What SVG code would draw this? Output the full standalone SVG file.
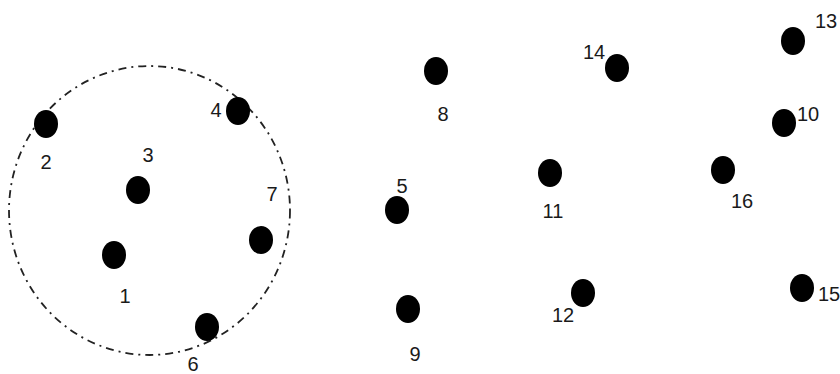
<svg xmlns="http://www.w3.org/2000/svg" width="840" height="374" viewBox="0 0 840 374">
<style>
.dot{fill:#000}
.lbl{font-family:"Liberation Sans",Arial,sans-serif;font-size:20px;fill:#1a1a1a;text-anchor:middle}
.ring{fill:none;stroke:#222;stroke-width:1.8;stroke-dasharray:8 5 2 5}
</style>
<rect width="840" height="374" fill="#fff"/>
<g id="connectors">
<ellipse class="ring" cx="149.5" cy="210.5" rx="140.5" ry="144.5"/>
</g>
<g id="n1"><ellipse class="dot" cx="114" cy="255" rx="12" ry="14"/><text class="lbl" x="125" y="303">1</text></g>
<g id="n2"><ellipse class="dot" cx="46" cy="124" rx="12" ry="14"/><text class="lbl" x="46" y="169">2</text></g>
<g id="n3"><ellipse class="dot" cx="138" cy="190" rx="12" ry="14"/><text class="lbl" x="148" y="162">3</text></g>
<g id="n4"><ellipse class="dot" cx="238" cy="111" rx="12" ry="14"/><text class="lbl" x="216" y="117">4</text></g>
<g id="n5"><ellipse class="dot" cx="397" cy="210" rx="12" ry="14"/><text class="lbl" x="402" y="193">5</text></g>
<g id="n6"><ellipse class="dot" cx="207" cy="327" rx="12" ry="14"/><text class="lbl" x="193" y="371">6</text></g>
<g id="n7"><ellipse class="dot" cx="261" cy="240" rx="12" ry="14"/><text class="lbl" x="272" y="201">7</text></g>
<g id="n8"><ellipse class="dot" cx="436" cy="71" rx="12" ry="14"/><text class="lbl" x="443" y="121">8</text></g>
<g id="n9"><ellipse class="dot" cx="408" cy="309" rx="12" ry="14"/><text class="lbl" x="415" y="361">9</text></g>
<g id="n10"><ellipse class="dot" cx="784" cy="123" rx="12" ry="14"/><text class="lbl" x="808" y="121">10</text></g>
<g id="n11"><ellipse class="dot" cx="550" cy="173" rx="12" ry="14"/><text class="lbl" x="553" y="218">11</text></g>
<g id="n12"><ellipse class="dot" cx="583" cy="293" rx="12" ry="14"/><text class="lbl" x="563" y="322">12</text></g>
<g id="n13"><ellipse class="dot" cx="793" cy="41" rx="12" ry="14"/><text class="lbl" x="826" y="28">13</text></g>
<g id="n14"><ellipse class="dot" cx="617" cy="68" rx="12" ry="14"/><text class="lbl" x="594" y="59">14</text></g>
<g id="n15"><ellipse class="dot" cx="802" cy="288" rx="12" ry="14"/><text class="lbl" x="829" y="301">15</text></g>
<g id="n16"><ellipse class="dot" cx="723" cy="170" rx="12" ry="14"/><text class="lbl" x="742" y="208">16</text></g>
</svg>
